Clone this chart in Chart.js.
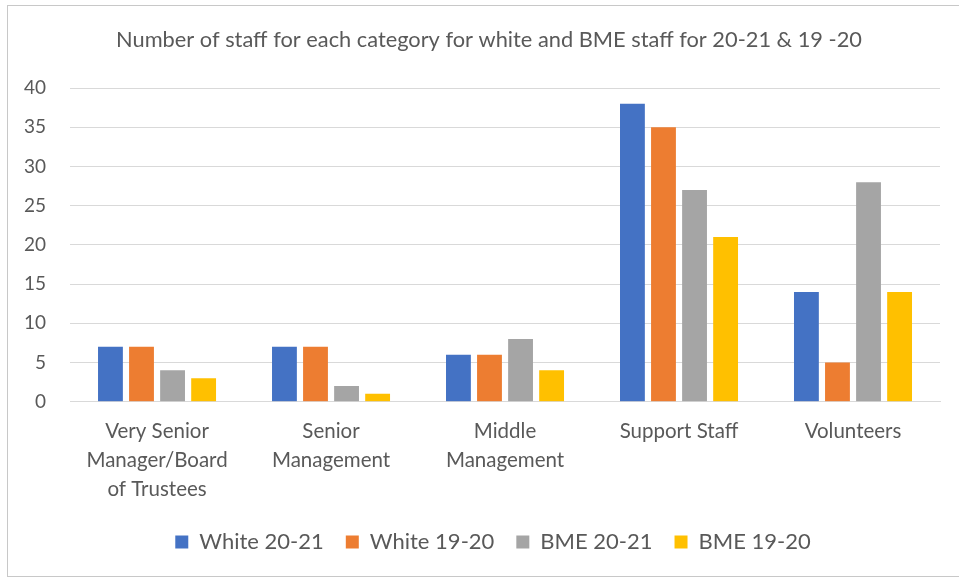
<!DOCTYPE html>
<html>
<head>
<meta charset="utf-8">
<script src="https://cdn.jsdelivr.net/npm/chart.js@4"></script>
<style>
  html, body { margin: 0; padding: 0; background: #fff; }
  #caja { position: absolute; left: 7px; top: 5px; width: 960px; height: 572px; border: 1px solid #c8c8c8; box-sizing: border-box; }
  #lienzo { position: absolute; left: 0; top: 0; }
</style>
</head>
<body>
<div id="caja"></div>
<canvas id="lienzo" width="959" height="581"></canvas>
<script>
// datos
const categorias = [['Very Senior', 'Manager/Board', 'of Trustees'], ['Senior', 'Management'], ['Middle', 'Management'], 'Support Staff', 'Volunteers'];
const blanco2021 = [7, 7, 6, 38, 14];
const blanco1920 = [7, 7, 6, 35, 5];
const bme2021 = [4, 2, 8, 27, 28];
const bme1920 = [3, 1, 4, 21, 14];
const ticksY = [0, 5, 10, 15, 20, 25, 30, 35, 40];

const fuente = 'Lato, "Noto Sans", sans-serif';
const gris = '#595959';

// en el original titulo y leyenda van algo desplazados a la derecha respecto al eje
const desplazar = {
    id: 'desplazar',
    afterLayout(chart) {
        let l = chart.legend;
        l.left += 23; l.right += 23;
        l.top -= 10; l.bottom -= 10;
        let t = chart.titleBlock;
        if (t) { t.left += 19; t.right += 19; }
    }
};

let ctx = document.getElementById('lienzo').getContext('2d');
let miGrafico = new Chart(ctx, {
    type: 'bar',
    data: {
        labels: categorias,
        datasets: [
            { label: 'White 20-21', data: blanco2021, backgroundColor: '#4472c4' },
            { label: 'White 19-20', data: blanco1920, backgroundColor: '#ed7d31' },
            { label: 'BME 20-21', data: bme2021, backgroundColor: '#a5a5a5' },
            { label: 'BME 19-20', data: bme1920, backgroundColor: '#ffc000' }
        ]
    },
    plugins: [desplazar],
    options: {
        responsive: false, animation: false,
        categoryPercentage: 0.714, barPercentage: 0.8,
        layout: { padding: { left: 0, right: 19, top: 17, bottom: 8 } },
        plugins: {
            title: { display: true, text: 'Number of staff for each category for white and BME staff for 20-21 & 19 -20', color: gris, font: { family: fuente, size: 21.8, weight: 'normal' }, padding: { top: 10, bottom: 35 } },
            legend: { position: 'bottom', labels: { color: gris, font: { family: fuente, size: 22 }, boxWidth: 13, boxHeight: 13, padding: 22 } },
            tooltip: { enabled: false }
        },
        scales: {
            x: {
                grid: { display: false, drawTicks: false },
                border: { color: '#d9d9d9' },
                ticks: { color: gris, font: { family: fuente, size: 20.5, lineHeight: 1.42 }, padding: 15, maxRotation: 0 }
            },
            y: {
                min: 0, max: 40,
                afterBuildTicks: eje => { eje.ticks = ticksY.map(v => ({ value: v })); },
                grid: { color: '#d9d9d9', drawTicks: false },
                border: { display: false },
                ticks: { color: gris, font: { family: fuente, size: 19 }, padding: 24 }
            }
        }
    }
});
</script>
</body>
</html>
